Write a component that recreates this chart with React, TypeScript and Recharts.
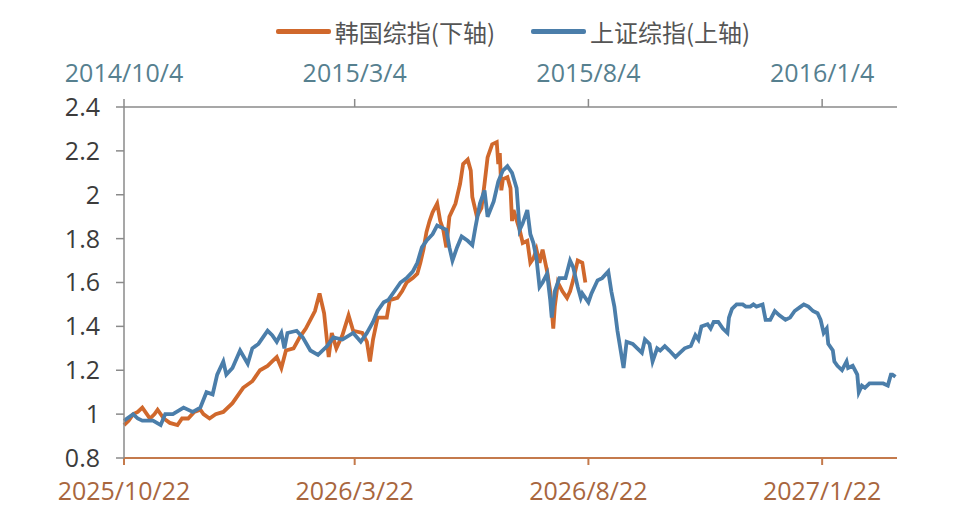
import { LineChart, Line, XAxis, YAxis, Legend } from "recharts";

// days since start of each axis (bottom: 2025/10/22, top: 2014/10/4)
const koreaDays = [
  0, 3, 6, 9, 12, 17, 20, 22, 26, 30, 35, 38, 42, 46, 50, 52, 56, 60, 65, 71,
  78, 84, 89, 94, 97, 100, 103, 106, 111, 115, 119, 122, 125, 128, 131, 134,
  136, 139, 143, 147, 150, 156, 159, 161, 163, 166, 172, 174, 179, 182, 185,
  189, 192, 194, 196, 198, 200, 202, 205, 207, 209, 211, 213, 217, 220, 222,
  225, 227, 228, 231, 234, 236, 238, 241, 244, 245, 246, 247, 248, 251, 253,
  254, 255, 259, 261, 264, 266, 268, 270, 272, 274, 277, 279, 281, 282, 284,
  287, 290, 292, 294, 297, 300, 302,
];
const koreaValues = [
  0.95, 0.97, 1.0, 1.01, 1.03, 0.98, 1.0, 1.02, 0.98, 0.96, 0.95, 0.98, 0.98,
  1.01, 1.02, 1.0, 0.98, 1.0, 1.01, 1.05, 1.12, 1.15, 1.2, 1.22, 1.24, 1.26,
  1.21, 1.29, 1.3, 1.35, 1.39, 1.43, 1.47, 1.55, 1.46, 1.26, 1.37, 1.3, 1.36,
  1.45, 1.38, 1.37, 1.33, 1.24, 1.34, 1.44, 1.44, 1.52, 1.53, 1.56, 1.6, 1.62,
  1.64, 1.69, 1.75, 1.83, 1.88, 1.92, 1.96, 1.88, 1.84, 1.76, 1.9, 1.96, 2.05,
  2.14, 2.16, 2.11, 1.99, 1.9, 1.94, 2.05, 2.17, 2.23, 2.24, 2.14, 2.19, 2.02,
  2.07, 2.08, 2.03, 1.88, 1.93, 1.84, 1.78, 1.79, 1.69, 1.71, 1.75, 1.69, 1.75,
  1.65, 1.56, 1.39, 1.49, 1.6, 1.56, 1.53, 1.56, 1.61, 1.7, 1.69, 1.6,
];

const shanghaiDays = [
  0, 2, 6, 9, 12, 19, 24, 27, 32, 39, 45, 50, 54, 58, 61, 65, 67, 71, 76, 81,
  84, 88, 94, 97, 100, 103, 105, 107, 113, 117, 122, 127, 133, 137, 143, 150,
  155, 159, 163, 166, 170, 173, 176, 181, 185, 189, 192, 195, 198, 202, 205,
  208, 211, 213, 215, 218, 221, 225, 228, 230, 233, 236, 238, 242, 245, 248,
  251, 254, 257, 259, 261, 264, 266, 268, 270, 272, 274, 277, 279, 280, 282,
  285, 289, 292, 294, 297, 299, 300, 304, 306, 310, 313, 317, 319, 321, 323,
  327, 329, 333, 336, 339, 341, 344, 346, 349, 351, 354, 357, 361, 364, 367,
  371, 374, 376, 378, 382, 384, 386, 389, 392, 395, 396, 398, 401, 405, 407,
  410, 412, 414, 418, 420, 423, 426, 429, 433, 436, 439, 443, 445, 448, 451,
  454, 456, 458, 460, 461, 464, 465, 467, 470, 473, 474, 477, 480, 481, 483,
  485, 488, 493, 497, 500, 502, 503, 505,
];
const shanghaiValues = [
  0.97, 0.98, 1.0, 0.98, 0.97, 0.97, 0.95, 1.0, 1.0, 1.03, 1.01, 1.03, 1.1,
  1.09, 1.18, 1.24, 1.18, 1.21, 1.29, 1.23, 1.3, 1.32, 1.38, 1.36, 1.33, 1.37,
  1.3, 1.37, 1.38, 1.35, 1.29, 1.27, 1.31, 1.35, 1.34, 1.37, 1.33, 1.37, 1.42,
  1.47, 1.51, 1.52, 1.55, 1.6, 1.62, 1.65, 1.69, 1.76, 1.79, 1.82, 1.86, 1.85,
  1.84, 1.76, 1.7, 1.76, 1.81, 1.79, 1.77, 1.85, 1.96, 2.02, 1.9, 1.97, 2.06,
  2.11, 2.13, 2.1, 2.03, 1.84, 1.87, 1.93, 1.82, 1.78, 1.71, 1.58, 1.6, 1.64,
  1.52, 1.44, 1.56, 1.62, 1.62, 1.7, 1.67, 1.58, 1.53, 1.55, 1.51, 1.55, 1.61,
  1.62, 1.65, 1.56, 1.49, 1.38, 1.21, 1.33, 1.32, 1.3, 1.28, 1.34, 1.32, 1.24,
  1.3, 1.29, 1.31, 1.29, 1.26, 1.28, 1.3, 1.31, 1.36, 1.34, 1.4, 1.41, 1.39,
  1.42, 1.42, 1.39, 1.37, 1.44, 1.48, 1.5, 1.5, 1.49, 1.49, 1.5, 1.49, 1.5,
  1.43, 1.43, 1.47, 1.45, 1.43, 1.44, 1.47, 1.49, 1.5, 1.49, 1.47, 1.46, 1.43,
  1.37, 1.39, 1.32, 1.29, 1.24, 1.22, 1.2, 1.24, 1.21, 1.22, 1.18, 1.1, 1.13,
  1.12, 1.14, 1.14, 1.14, 1.13, 1.18, 1.18, 1.17,
];

const xTicks = [0, 151, 304, 457];
const bottomLabels = ["2025/10/22", "2026/3/22", "2026/8/22", "2027/1/22"];
const topLabels = ["2014/10/4", "2015/3/4", "2015/8/4", "2016/1/4"];
const yTicks = [0.8, 1, 1.2, 1.4, 1.6, 1.8, 2, 2.2, 2.4];

const koreaData = koreaDays.map((day, i) => ({ day, v: koreaValues[i] }));
const shanghaiData = shanghaiDays.map((day, i) => ({ day, v: shanghaiValues[i] }));

const ORANGE = "#d0682c";
const BLUE = "#4b7eaa";
const tickFont = "'Open Sans', 'Noto Sans', sans-serif";

const LegendContent = () => (
  <div
    style={{
      display: "flex",
      justifyContent: "center",
      alignItems: "center",
      paddingLeft: 66,
      fontFamily: "'Noto Sans CJK SC', sans-serif",
      fontSize: 24,
      color: "#555",
    }}
  >
    <span style={{ width: 55, height: 5, borderRadius: 2, background: ORANGE, marginRight: 4 }} />
    <span>韩国综指(下轴)</span>
    <span style={{ width: 55, height: 5, borderRadius: 2, background: BLUE, marginLeft: 36, marginRight: 4 }} />
    <span>上证综指(上轴)</span>
  </div>
);

export default function App() {
  return (
    <div style={{ position: "absolute", left: 0, top: 0, background: "#fff" }}>
      <LineChart
        width={960}
        height={519}
        margin={{ top: 57, right: 63, bottom: 11, left: 54 }}
      >
        <Legend
          layout="horizontal"
          verticalAlign="middle"
          align="center"
          content={<LegendContent />}
          wrapperStyle={{ top: 14, left: 0, width: 960 }}
        />
        <XAxis
          xAxisId="bottom"
          dataKey="day"
          type="number"
          domain={[0, 506]}
          ticks={xTicks}
          tickFormatter={(v) => bottomLabels[xTicks.indexOf(v)]}
          orientation="bottom"
          height={50}
          stroke="#c47a4c"
          strokeWidth={2}
          tickSize={7}
          tickMargin={17}
          tick={{ fill: "#a8663e", fontSize: 25, fontFamily: tickFont }}
        />
        <XAxis
          xAxisId="top"
          dataKey="day"
          type="number"
          domain={[0, 506]}
          ticks={xTicks}
          tickFormatter={(v) => topLabels[xTicks.indexOf(v)]}
          orientation="top"
          height={50}
          stroke="#8a8a8a"
          strokeWidth={1.5}
          tickSize={8}
          tickMargin={17}
          tick={{ fill: "#56808f", fontSize: 25, fontFamily: tickFont }}
        />
        <YAxis
          type="number"
          domain={[0.8, 2.4]}
          ticks={yTicks}
          width={70}
          stroke="#8a8a8a"
          strokeWidth={1.5}
          tickSize={8}
          tickMargin={16}
          tick={{ fill: "#3c3c3c", fontSize: 25, fontFamily: tickFont }}
        />
        <Line
          xAxisId="bottom"
          data={koreaData}
          dataKey="v"
          name="韩国综指(下轴)"
          type="linear"
          stroke={ORANGE}
          strokeWidth={3.8}
          dot={false}
          isAnimationActive={false}
        />
        <Line
          xAxisId="top"
          data={shanghaiData}
          dataKey="v"
          name="上证综指(上轴)"
          type="linear"
          stroke={BLUE}
          strokeWidth={3.8}
          dot={false}
          isAnimationActive={false}
        />
      </LineChart>
    </div>
  );
}
